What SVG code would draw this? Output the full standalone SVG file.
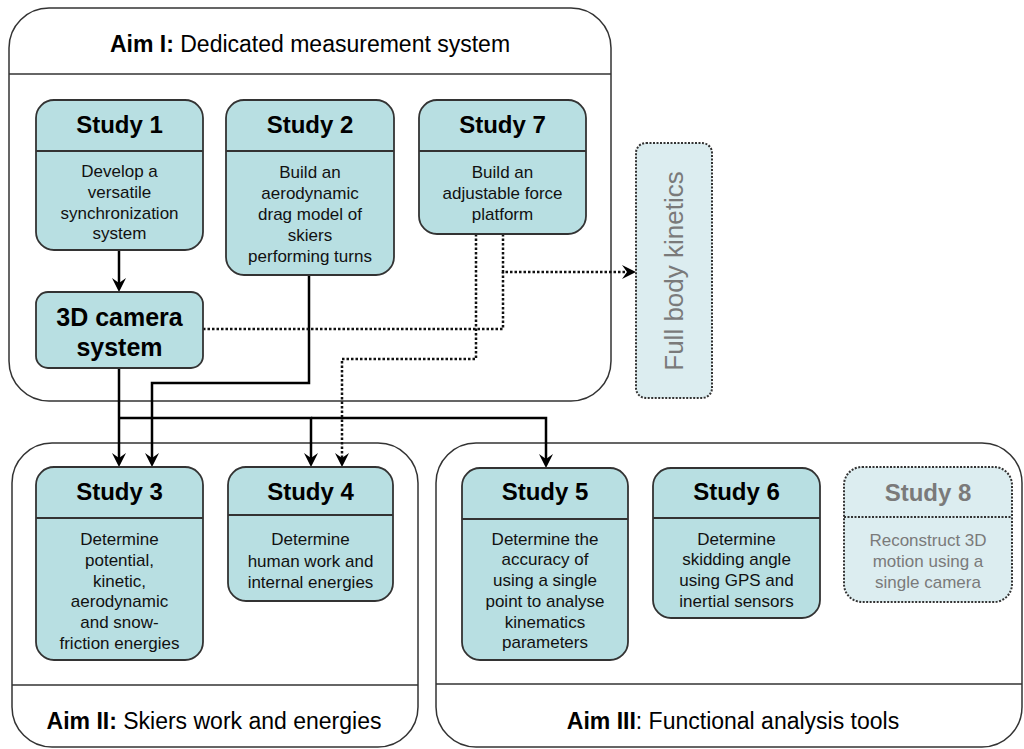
<svg xmlns="http://www.w3.org/2000/svg" width="1024" height="749" viewBox="0 0 1024 749">
  <style>
    .aim { fill: #ffffff; stroke: #333333; stroke-width: 1.5; }
    .div { stroke: #333333; stroke-width: 1.5; fill: none; }
    .box { fill: #b8dfe2; stroke: #333333; stroke-width: 1.8; }
    .boxline { stroke: #333333; stroke-width: 1.8; }
    .ghost { fill: #dcedf0; stroke: #333333; stroke-width: 2; stroke-dasharray: 2 1.5; }
    .ghostline { stroke: #333333; stroke-width: 2; stroke-dasharray: 2 1.5; }
    .title { font-family: "Liberation Sans", Arial, sans-serif; font-size: 23px; fill: #000; text-anchor: middle; }
    .head { font-family: "Liberation Sans", Arial, sans-serif; font-size: 24px; font-weight: bold; fill: #000; text-anchor: middle; }
    .cam { font-size: 25px; }
    .fbk { font-size: 26px; }
    .body { font-family: "Liberation Sans", Arial, sans-serif; font-size: 17px; fill: #111; text-anchor: middle; }
    .grey { fill: #7a7a7a; }
    .solid { fill: none; stroke: #000; stroke-width: 2.5; }
    .dot { fill: none; stroke: #111; stroke-width: 2.5; stroke-dasharray: 2.5 2; }
  </style>
  <defs>
    <marker id="arr" markerUnits="userSpaceOnUse" markerWidth="16" markerHeight="16" viewBox="0 0 16 14" refX="10" refY="7" orient="auto">
      <path d="M0,0 L14,7 L0,14 L5,7 Z" fill="#000"/>
    </marker>
  </defs>

  <!-- Aim containers -->
  <g id="aim1">
    <rect class="aim" x="9" y="8" width="602" height="393" rx="40" ry="40"/>
    <line class="div" x1="9" y1="74" x2="611" y2="74"/>
    <text class="title" x="310" y="52"><tspan font-weight="bold">Aim I:</tspan> Dedicated measurement system</text>
  </g>
  <g id="aim2">
    <rect class="aim" x="12" y="443" width="406" height="304" rx="40" ry="40"/>
    <line class="div" x1="12" y1="685" x2="418" y2="685"/>
    <text class="title" x="214" y="729"><tspan font-weight="bold">Aim II:</tspan> Skiers work and energies</text>
  </g>
  <g id="aim3">
    <rect class="aim" x="436" y="443" width="586" height="304" rx="40" ry="40"/>
    <line class="div" x1="436" y1="684" x2="1022" y2="684"/>
    <text class="title" x="733" y="729"><tspan font-weight="bold">Aim III</tspan>: Functional analysis tools</text>
  </g>

  <!-- Connectors -->
  <g id="connectors">
    <path class="solid" d="M119,250 L119,288" marker-end="url(#arr)"/>
    <path class="solid" d="M119,368 L119,463" marker-end="url(#arr)"/>
    <path class="solid" d="M119,418 L311,418 L311,463" marker-end="url(#arr)"/>
    <path class="solid" d="M311,418 L546,418 L546,464" marker-end="url(#arr)"/>
    <path class="solid" d="M309,275 L309,383 L152,383 L152,463" marker-end="url(#arr)"/>
    <path class="dot" d="M203,329 L503,329 L503,272"/>
    <path class="dot" d="M503,234 L503,272 L632,272" marker-end="url(#arr)"/>
    <path class="dot" d="M476,234 L476,359 L342,359 L342,463" marker-end="url(#arr)"/>
  </g>

  <!-- Study nodes -->
  <g id="study1">
    <rect class="box" x="36" y="100" width="167" height="150" rx="18" ry="18"/>
    <line class="boxline" x1="36" y1="151" x2="203" y2="151"/>
    <text class="head" x="119.5" y="133">Study 1</text>
    <text class="body" x="119.5" y="177">Develop a</text>
    <text class="body" x="119.5" y="198">versatile</text>
    <text class="body" x="119.5" y="219">synchronization</text>
    <text class="body" x="119.5" y="239">system</text>
  </g>
  <g id="study2">
    <rect class="box" x="226" y="100" width="168" height="175" rx="18" ry="18"/>
    <line class="boxline" x1="226" y1="151" x2="394" y2="151"/>
    <text class="head" x="310" y="133">Study 2</text>
    <text class="body" x="310" y="178">Build an</text>
    <text class="body" x="310" y="199">aerodynamic</text>
    <text class="body" x="310" y="220">drag model of</text>
    <text class="body" x="310" y="241">skiers</text>
    <text class="body" x="310" y="262">performing turns</text>
  </g>
  <g id="study7">
    <rect class="box" x="419" y="100" width="167" height="134" rx="18" ry="18"/>
    <line class="boxline" x1="419" y1="151" x2="586" y2="151"/>
    <text class="head" x="502.5" y="133">Study 7</text>
    <text class="body" x="502.5" y="178">Build an</text>
    <text class="body" x="502.5" y="199">adjustable force</text>
    <text class="body" x="502.5" y="220">platform</text>
  </g>
  <g id="camera3d">
    <rect class="box" x="36" y="292" width="167" height="76" rx="12" ry="12"/>
    <text class="head cam" x="119.5" y="326">3D camera</text>
    <text class="head cam" x="119.5" y="356">system</text>
  </g>
  <g id="fullbody">
    <rect class="ghost" x="636" y="143" width="76" height="255" rx="10" ry="10"/>
    <text class="title grey fbk" x="683" y="271" transform="rotate(-90 683 271)">Full body kinetics</text>
  </g>
  <g id="study3">
    <rect class="box" x="36" y="467" width="167" height="193" rx="18" ry="18"/>
    <line class="boxline" x1="36" y1="518" x2="203" y2="518"/>
    <text class="head" x="119.5" y="500">Study 3</text>
    <text class="body" x="119.5" y="545">Determine</text>
    <text class="body" x="119.5" y="566">potential,</text>
    <text class="body" x="119.5" y="587">kinetic,</text>
    <text class="body" x="119.5" y="607">aerodynamic</text>
    <text class="body" x="119.5" y="628">and snow-</text>
    <text class="body" x="119.5" y="649">friction energies</text>
  </g>
  <g id="study4">
    <rect class="box" x="228" y="467" width="165" height="134" rx="18" ry="18"/>
    <line class="boxline" x1="228" y1="515" x2="393" y2="515"/>
    <text class="head" x="310.5" y="500">Study 4</text>
    <text class="body" x="310.5" y="545">Determine</text>
    <text class="body" x="310.5" y="567">human work and</text>
    <text class="body" x="310.5" y="588">internal energies</text>
  </g>
  <g id="study5">
    <rect class="box" x="462" y="468" width="166" height="192" rx="18" ry="18"/>
    <line class="boxline" x1="462" y1="519" x2="628" y2="519"/>
    <text class="head" x="545" y="500">Study 5</text>
    <text class="body" x="545" y="545">Determine the</text>
    <text class="body" x="545" y="565">accuracy of</text>
    <text class="body" x="545" y="586">using a single</text>
    <text class="body" x="545" y="607">point to analyse</text>
    <text class="body" x="545" y="628">kinematics</text>
    <text class="body" x="545" y="648">parameters</text>
  </g>
  <g id="study6">
    <rect class="box" x="653" y="468" width="167" height="150" rx="18" ry="18"/>
    <line class="boxline" x1="653" y1="518" x2="820" y2="518"/>
    <text class="head" x="736.5" y="500">Study 6</text>
    <text class="body" x="736.5" y="545">Determine</text>
    <text class="body" x="736.5" y="565">skidding angle</text>
    <text class="body" x="736.5" y="586">using GPS and</text>
    <text class="body" x="736.5" y="607">inertial sensors</text>
  </g>
  <g id="study8">
    <rect class="ghost" x="844" y="467" width="168" height="135" rx="18" ry="18"/>
    <line class="ghostline" x1="844" y1="517" x2="1012" y2="517"/>
    <text class="head grey" x="928" y="501">Study 8</text>
    <text class="body grey" x="928" y="546">Reconstruct 3D</text>
    <text class="body grey" x="928" y="567">motion using a</text>
    <text class="body grey" x="928" y="588">single camera</text>
  </g>
</svg>
